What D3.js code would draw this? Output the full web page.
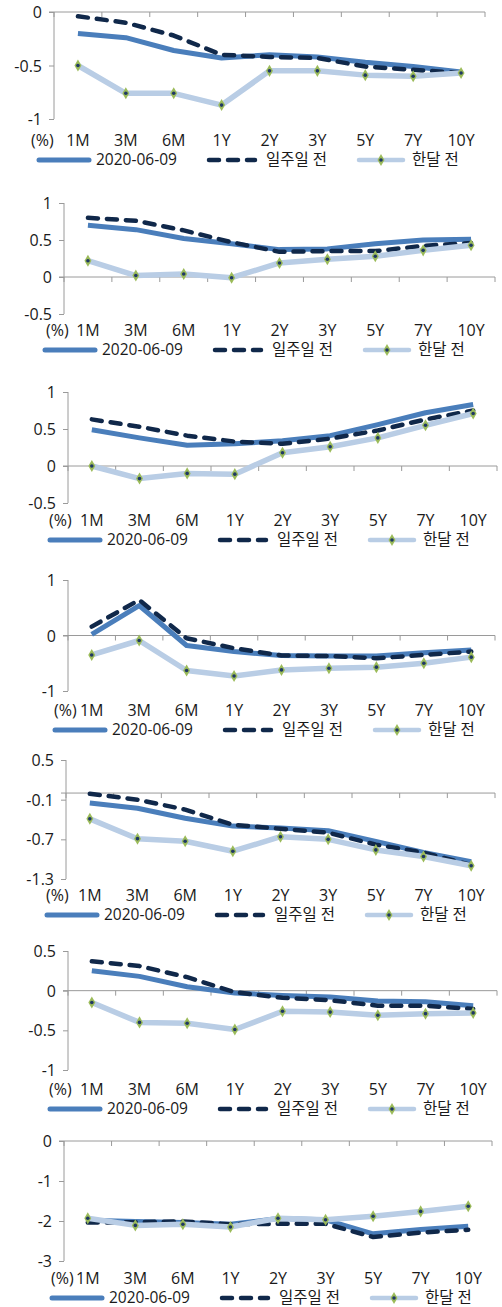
<!DOCTYPE html>
<html>
<head>
<meta charset="utf-8">
<script src="https://cdn.jsdelivr.net/npm/d3@7/dist/d3.min.js"></script>
<style>
  html, body { margin: 0; padding: 0; background: #fff; }
  svg { display: block; }
  text { font-family: "Open Sans", "Noto Sans CJK KR", sans-serif; fill: #1a1a1a; }
</style>
</head>
<body>
<svg id="chart" width="502" height="1307"></svg>
<script>
// ---------- DATA ----------
const categories = ["1M", "3M", "6M", "1Y", "2Y", "3Y", "5Y", "7Y", "10Y"];
const seriesNames = ["2020-06-09", "일주일 전", "한달 전"];
const unitLabel = "(%)";

// Panel 1
const p1Today = [-0.20, -0.24, -0.36, -0.43, -0.40, -0.42, -0.47, -0.51, -0.56];
const p1Week  = [-0.04, -0.10, -0.22, -0.40, -0.42, -0.43, -0.51, -0.54, -0.57];
const p1Month = [-0.50, -0.76, -0.76, -0.87, -0.55, -0.55, -0.59, -0.60, -0.57];
const p1Ticks = [0, -0.5, -1];
const p1TickLabels = ["0", "-0.5", "-1"];

// Panel 2
const p2Today = [0.70, 0.64, 0.52, 0.45, 0.37, 0.38, 0.45, 0.50, 0.51];
const p2Week  = [0.80, 0.76, 0.63, 0.47, 0.34, 0.35, 0.35, 0.42, 0.46];
const p2Month = [0.22, 0.02, 0.04, -0.01, 0.19, 0.24, 0.28, 0.36, 0.43];
const p2Ticks = [1, 0.5, 0, -0.5];
const p2TickLabels = ["1", "0.5", "0", "-0.5"];

// Panel 3
const p3Today = [0.49, 0.38, 0.28, 0.30, 0.34, 0.41, 0.56, 0.72, 0.83];
const p3Week  = [0.63, 0.53, 0.41, 0.33, 0.30, 0.37, 0.48, 0.63, 0.75];
const p3Month = [0.00, -0.17, -0.10, -0.11, 0.18, 0.26, 0.38, 0.55, 0.71];
const p3Ticks = [1, 0.5, 0, -0.5];
const p3TickLabels = ["1", "0.5", "0", "-0.5"];

// Panel 4
const p4Today = [0.02, 0.54, -0.18, -0.29, -0.36, -0.37, -0.37, -0.31, -0.26];
const p4Week  = [0.16, 0.64, -0.05, -0.23, -0.36, -0.37, -0.41, -0.35, -0.29];
const p4Month = [-0.35, -0.09, -0.63, -0.73, -0.62, -0.59, -0.57, -0.50, -0.39];
const p4Ticks = [1, 0, -1];
const p4TickLabels = ["1", "0", "-1"];

// Panel 5
const p5Today = [-0.15, -0.23, -0.38, -0.50, -0.53, -0.57, -0.73, -0.90, -1.04];
const p5Week  = [-0.01, -0.10, -0.25, -0.48, -0.54, -0.60, -0.78, -0.90, -1.09];
const p5Month = [-0.39, -0.69, -0.73, -0.88, -0.66, -0.70, -0.86, -0.96, -1.10];
const p5Ticks = [0.5, -0.1, -0.7, -1.3];
const p5TickLabels = ["0.5", "-0.1", "-0.7", "-1.3"];

// Panel 6
const p6Today = [0.25, 0.18, 0.05, -0.03, -0.06, -0.08, -0.13, -0.14, -0.19];
const p6Week  = [0.37, 0.31, 0.17, -0.02, -0.09, -0.12, -0.19, -0.19, -0.23];
const p6Month = [-0.15, -0.40, -0.41, -0.49, -0.26, -0.27, -0.31, -0.29, -0.28];
const p6Ticks = [0.5, 0, -0.5, -1];
const p6TickLabels = ["0.5", "0", "-0.5", "-1"];

// Panel 7
const p7Today = [-1.98, -2.01, -2.04, -2.08, -1.94, -1.97, -2.32, -2.21, -2.13];
const p7Week  = [-2.04, -2.03, -2.01, -2.08, -2.07, -2.07, -2.40, -2.29, -2.22];
const p7Month = [-1.93, -2.11, -2.08, -2.15, -1.93, -1.97, -1.88, -1.76, -1.63];
const p7Ticks = [0, -1, -2, -3];
const p7TickLabels = ["0", "-1", "-2", "-3"];

const panelData = [
  { series: [p1Today, p1Week, p1Month], ticks: p1Ticks, tickLabels: p1TickLabels },
  { series: [p2Today, p2Week, p2Month], ticks: p2Ticks, tickLabels: p2TickLabels },
  { series: [p3Today, p3Week, p3Month], ticks: p3Ticks, tickLabels: p3TickLabels },
  { series: [p4Today, p4Week, p4Month], ticks: p4Ticks, tickLabels: p4TickLabels },
  { series: [p5Today, p5Week, p5Month], ticks: p5Ticks, tickLabels: p5TickLabels },
  { series: [p6Today, p6Week, p6Month], ticks: p6Ticks, tickLabels: p6TickLabels },
  { series: [p7Today, p7Week, p7Month], ticks: p7Ticks, tickLabels: p7TickLabels }
];

// ---------- LAYOUT ----------
const layout = [
  { top: 12,   bottom: 119,  left: 54, right: 485, catY: 140,  legY: 160,  unitX: 31, legX: 37 },
  { top: 203,  bottom: 314,  left: 64, right: 495, catY: 330,  legY: 350,  unitX: 46, legX: 43 },
  { top: 392,  bottom: 503,  left: 68, right: 497, catY: 520,  legY: 540,  unitX: 49, legX: 48 },
  { top: 580,  bottom: 691,  left: 68, right: 495, catY: 710,  legY: 730,  unitX: 54, legX: 53 },
  { top: 760,  bottom: 879,  left: 66, right: 495, catY: 895,  legY: 915,  unitX: 46, legX: 45 },
  { top: 951,  bottom: 1070, left: 68, right: 497, catY: 1089, legY: 1109, unitX: 49, legX: 48 },
  { top: 1141, bottom: 1261, left: 64, right: 492, catY: 1278, legY: 1298, unitX: 51, legX: 50 }
];

const colToday = "#4a7ebb";
const colWeek  = "#10284a";
const colMonth = "#b9cde5";
const colMarker = "#9bbb59";
const colAxis = "#9a9a9a";
const fontSize = 16;
const legFontSize = 15.5;

const svg = d3.select("#chart");

function drawMarker(g, x, y) {
  g.append("path")
    .attr("d", d3.symbol().type(d3.symbolDiamond).size(42)())
    .attr("transform", `translate(${x},${y})`)
    .attr("fill", colMarker);
  g.append("circle").attr("cx", x).attr("cy", y).attr("r", 1.8).attr("fill", "#1f3864");
}

panelData.forEach((pd, i) => {
  const L = layout[i];
  const g = svg.append("g");
  const yMin = d3.min(pd.ticks), yMax = d3.max(pd.ticks);
  const y = d3.scaleLinear().domain([yMin, yMax]).range([L.bottom, L.top]);
  const x = d3.scaleBand().domain(categories).range([L.left, L.right]).padding(0);
  const cx = c => x(c) + x.bandwidth() / 2;

  // y axis
  const yAxis = d3.axisLeft(y).tickValues(pd.ticks).tickSize(5)
    .tickFormat((d, k) => pd.tickLabels[k]);
  const ya = g.append("g").attr("transform", `translate(${L.left},0)`).call(yAxis);
  ya.select(".domain").attr("stroke", colAxis).attr("d", `M0,${L.top}V${L.bottom}`);
  ya.selectAll(".tick line").attr("stroke", colAxis).attr("x1", -5).attr("x2", 0);
  ya.selectAll(".tick text")
    .attr("x", -12).attr("dy", "0.35em")
    .style("font-size", fontSize + "px")
    .style("font-family", '"Open Sans", "Noto Sans CJK KR", sans-serif')
    .attr("fill", "#1a1a1a");

  // horizontal axis at zero
  const y0 = y(0);
  g.append("line").attr("x1", L.left - 5).attr("x2", L.right)
    .attr("y1", y0).attr("y2", y0).attr("stroke", colAxis).attr("stroke-width", 1);
  const bounds = categories.map(c => x(c)).concat([L.right]);
  g.selectAll(".xt").data(bounds).enter().append("line")
    .attr("x1", d => d).attr("x2", d => d)
    .attr("y1", y0).attr("y2", y0 + 5)
    .attr("stroke", colAxis);

  // category labels
  g.selectAll(".cat").data(categories).enter().append("text")
    .attr("x", d => cx(d)).attr("y", L.catY).attr("dy", "0.35em")
    .attr("text-anchor", "middle").style("font-size", fontSize + "px").text(d => d);
  g.append("text").attr("x", L.unitX).attr("y", L.catY).attr("dy", "0.35em")
    .style("font-size", fontSize + "px").text(unitLabel);

  // series lines
  const line = d3.line().x((d, k) => cx(categories[k])).y(d => y(d));
  g.append("path").datum(pd.series[0]).attr("d", line)
    .attr("fill", "none").attr("stroke", colToday).attr("stroke-width", 5)
    .attr("stroke-linejoin", "round");
  g.append("path").datum(pd.series[1]).attr("d", line)
    .attr("fill", "none").attr("stroke", colWeek).attr("stroke-width", 4.5)
    .attr("stroke-dasharray", "10,9").attr("stroke-linecap", "round")
    .attr("stroke-linejoin", "round");
  g.append("path").datum(pd.series[2]).attr("d", line)
    .attr("fill", "none").attr("stroke", colMonth).attr("stroke-width", 5.5)
    .attr("stroke-linejoin", "round");
  pd.series[2].forEach((v, k) => drawMarker(g, cx(categories[k]), y(v)));

  // legend
  const lg = g.append("g").attr("transform", `translate(${L.legX},${L.legY})`);
  lg.append("line").attr("x1", 2).attr("x2", 52).attr("y1", 0).attr("y2", 0)
    .attr("stroke", colToday).attr("stroke-width", 5).attr("stroke-linecap", "round");
  lg.append("text").attr("x", 59).attr("y", 0).attr("dy", "0.35em")
    .style("font-size", legFontSize + "px").text(seriesNames[0]);
  lg.append("line").attr("x1", 172).attr("x2", 218).attr("y1", 0).attr("y2", 0)
    .attr("stroke", colWeek).attr("stroke-width", 4.5).attr("stroke-dasharray", "10,9")
    .attr("stroke-linecap", "round");
  lg.append("text").attr("x", 229).attr("y", 0).attr("dy", "0.35em")
    .style("font-size", legFontSize + "px").text(seriesNames[1]);
  lg.append("line").attr("x1", 322).attr("x2", 366).attr("y1", 0).attr("y2", 0)
    .attr("stroke", colMonth).attr("stroke-width", 4.5).attr("stroke-linecap", "round");
  drawMarker(lg, 344, 0);
  lg.append("text").attr("x", 375).attr("y", 0).attr("dy", "0.35em")
    .style("font-size", legFontSize + "px").text(seriesNames[2]);
});
</script>
</body>
</html>
